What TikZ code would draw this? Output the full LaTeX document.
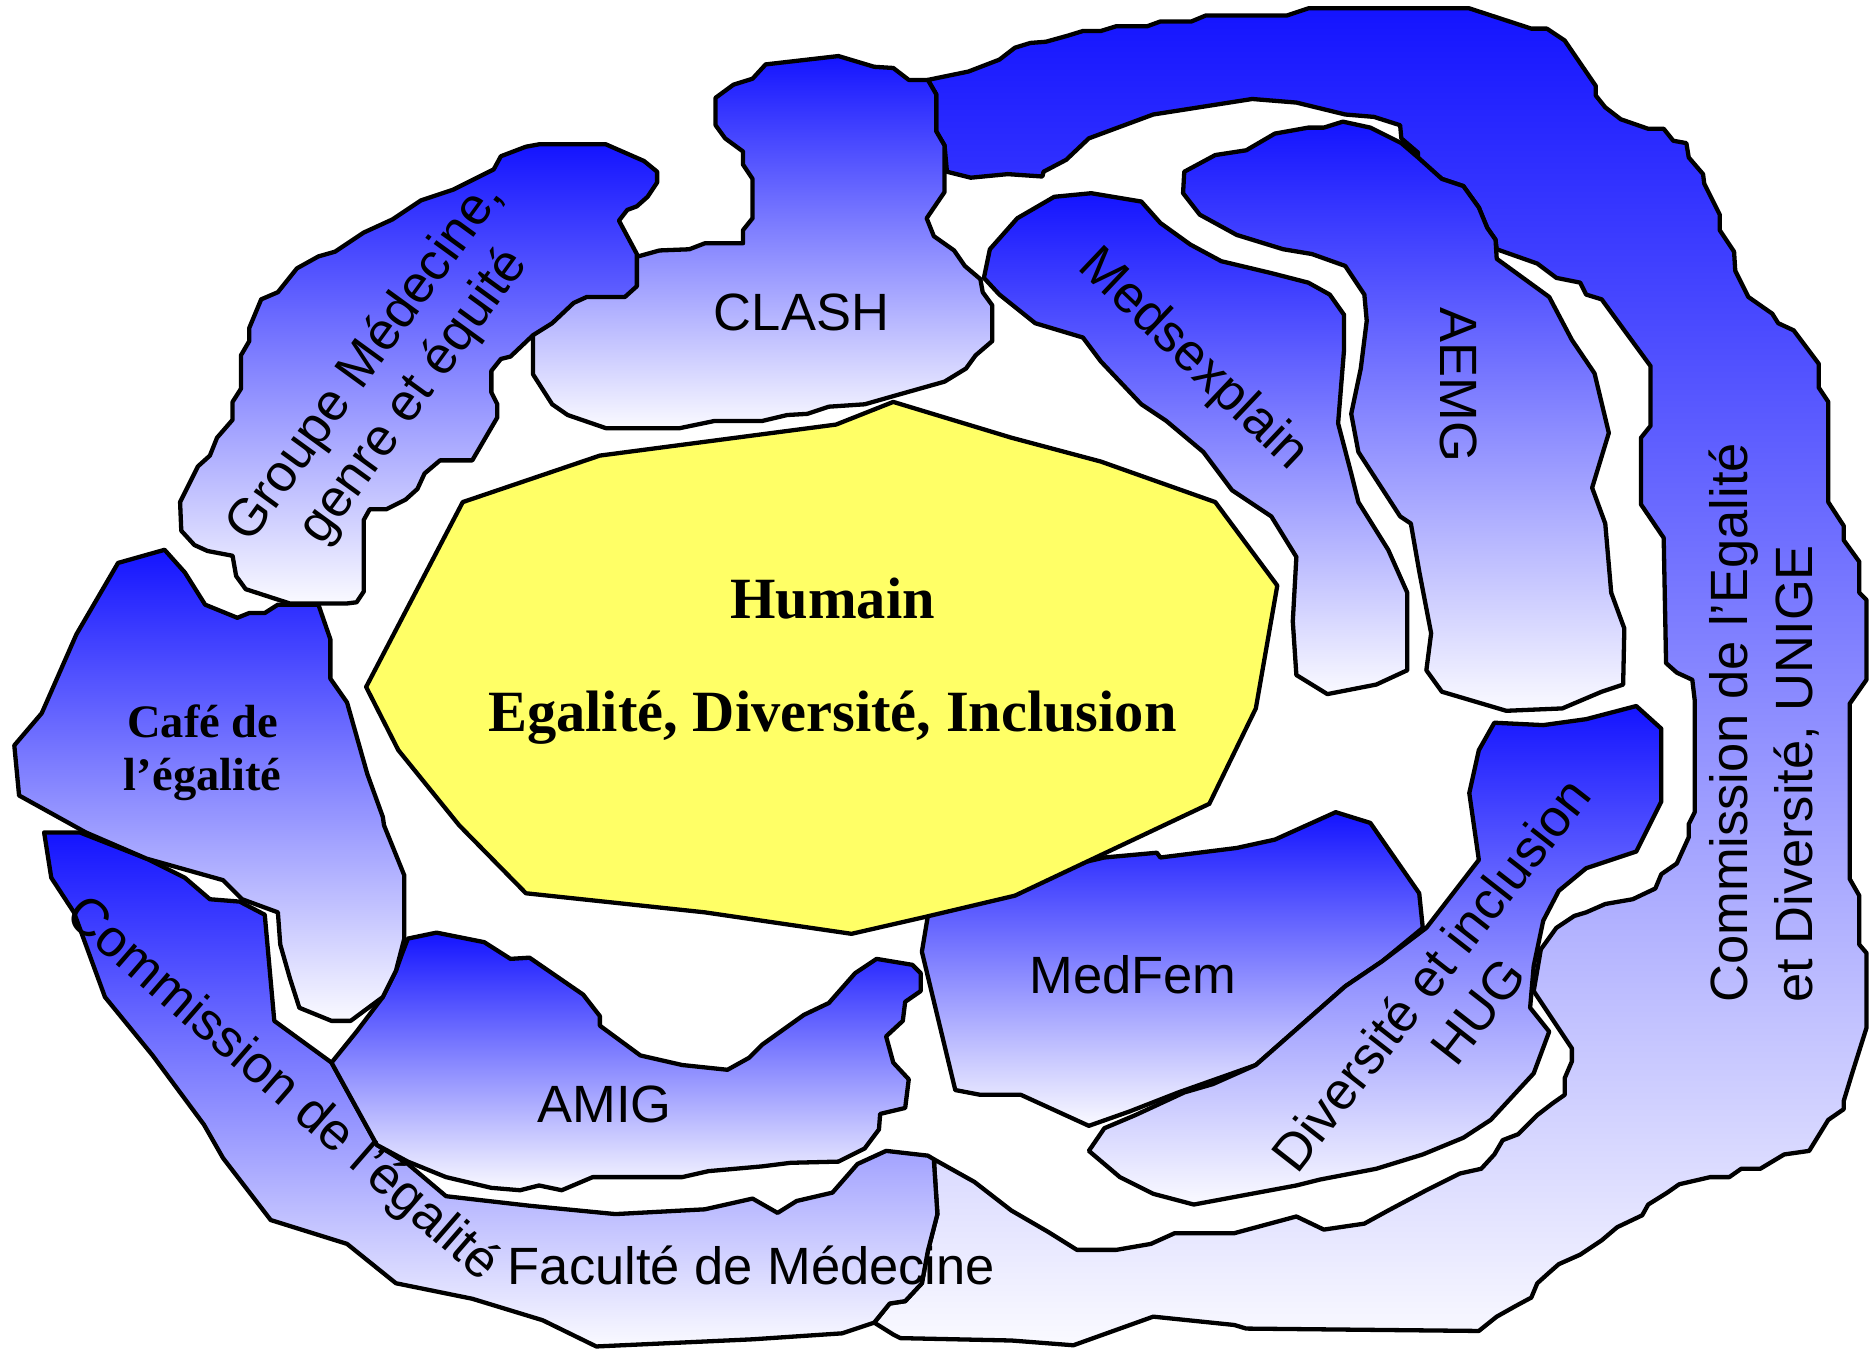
\documentclass[tikz,border=0pt]{standalone}
\usepackage{fontspec}
\setmainfont{Liberation Serif}
\setsansfont{Liberation Sans}
\definecolor{blobtop}{RGB}{20, 20, 255}
\definecolor{blobbottom}{RGB}{250, 250, 255}
\definecolor{hubyellow}{RGB}{255, 255, 102}
\usetikzlibrary{positioning}

\begin{document}
\begin{tikzpicture}[
  x=1pt, y=-1pt,
  blob/.style={draw=black, line width=3.6pt, line join=round, top color=blobtop, bottom color=blobbottom},
  hub/.style={draw=black, line width=3.6pt, line join=round, fill=hubyellow},
  lbl/.style={font=\sffamily\fontsize{44}{50}\selectfont, align=center, inner sep=0pt},
  cafetxt/.style={font=\bfseries\fontsize{39}{44}\selectfont, align=center, inner sep=0pt},
  hubtxt/.style={font=\bfseries\fontsize{49}{56}\selectfont, anchor=base, inner sep=0pt}
]
  \useasboundingbox (0, 0) rectangle (1568, 1133);

  \draw[blob] (778, 67) -- (812, 60) -- (838, 50) -- (851, 40) -- (864, 36) -- (877, 35) -- (895, 30) -- (908, 26) -- (923, 26) -- (936, 22) -- (962, 22) -- (973, 18) -- (999, 18) -- (1011, 13) -- (1079, 13) -- (1097, 7) -- (1232, 7) -- (1284, 24) -- (1297, 24) -- (1312, 34) -- (1338, 72) -- (1338, 80) -- (1346, 90) -- (1359, 100) -- (1382, 108) -- (1395, 108) -- (1403, 118) -- (1414, 120) -- (1416, 132) -- (1428, 146) -- (1429, 154) -- (1442, 180) -- (1442, 193) -- (1454, 211) -- (1455, 227) -- (1466, 249) -- (1486, 263) -- (1491, 271) -- (1504, 277) -- (1525, 305) -- (1525, 325) -- (1533, 337) -- (1533, 421) -- (1546, 441) -- (1546, 453) -- (1559, 471) -- (1559, 497) -- (1565, 503) -- (1565, 570) -- (1551, 590) -- (1551, 737) -- (1559, 751) -- (1559, 792) -- (1565, 799) -- (1565, 862) -- (1553, 900) -- (1546, 923) -- (1546, 930) -- (1533, 939) -- (1517, 965) -- (1496, 968) -- (1476, 980) -- (1460, 980) -- (1450, 987) -- (1434, 987) -- (1408, 993) -- (1398, 1000) -- (1382, 1010) -- (1377, 1019) -- (1356, 1029) -- (1343, 1040) -- (1325, 1052) -- (1307, 1060) -- (1299, 1067) -- (1289, 1076) -- (1284, 1088) -- (1271, 1095) -- (1255, 1104) -- (1240, 1116) -- (1045, 1114) -- (1035, 1111) -- (967, 1104) -- (900, 1128) -- (848, 1124) -- (755, 1122) -- (749, 1119) -- (733, 1109) -- (746, 1093) -- (759, 1091) -- (773, 1076) -- (778, 1049) -- (786, 1018) -- (783, 972) -- (817, 991) -- (848, 1015) -- (879, 1033) -- (903, 1048) -- (936, 1048) -- (965, 1043) -- (985, 1034) -- (1035, 1034) -- (1087, 1020) -- (1110, 1031) -- (1144, 1026) -- (1164, 1015) -- (1196, 998) -- (1224, 984) -- (1242, 980) -- (1253, 968) -- (1260, 956) -- (1273, 951) -- (1289, 935) -- (1302, 925) -- (1312, 918) -- (1312, 904) -- (1318, 890) -- (1318, 879) -- (1286, 831) -- (1292, 796) -- (1305, 778) -- (1320, 768) -- (1330, 765) -- (1346, 758) -- (1369, 754) -- (1388, 745) -- (1393, 733) -- (1406, 724) -- (1416, 702) -- (1416, 691) -- (1421, 681) -- (1421, 587) -- (1419, 570) -- (1406, 564) -- (1397, 556) -- (1395, 451) -- (1376, 423) -- (1376, 367) -- (1384, 357) -- (1384, 307) -- (1362, 277) -- (1343, 251) -- (1330, 247) -- (1325, 237) -- (1305, 233) -- (1289, 221) -- (1255, 209) -- (1254, 201) -- (1247, 191) -- (1240, 174) -- (1227, 156) -- (1209, 150) -- (1189, 134) -- (1189, 128) -- (1175, 116) -- (1174, 105) -- (1152, 98) -- (1128, 96) -- (1087, 86) -- (1050, 83) -- (967, 96) -- (913, 116) -- (894, 134) -- (875, 144) -- (874, 148) -- (845, 146) -- (814, 149) -- (794, 144) -- (792, 122) -- (785, 110) -- (785, 79) -- cycle;

  \draw[blob] (37, 698) -- (43, 736) -- (62, 765) -- (88, 836) -- (128, 885) -- (171, 943) -- (187, 971) -- (227, 1023) -- (291, 1043) -- (332, 1076) -- (396, 1089) -- (455, 1107) -- (500, 1129) -- (631, 1123) -- (706, 1118) -- (733, 1109) -- (746, 1093) -- (759, 1091) -- (773, 1076) -- (778, 1049) -- (786, 1018) -- (783, 972) -- (778, 969) -- (743, 965) -- (719, 976) -- (698, 1000) -- (668, 1007) -- (652, 1017) -- (631, 1005) -- (591, 1014) -- (516, 1018) -- (444, 1011) -- (374, 1003) -- (342, 976) -- (316, 960) -- (278, 891) -- (230, 856) -- (222, 767) -- (201, 756) -- (176, 754) -- (155, 736) -- (123, 720) -- (67, 698) -- cycle;

  \draw[blob] (342, 787) -- (366, 782) -- (406, 790) -- (428, 804) -- (444, 803) -- (489, 834) -- (503, 852) -- (503, 860) -- (537, 885) -- (572, 893) -- (610, 897) -- (628, 887) -- (639, 876) -- (674, 851) -- (695, 841) -- (717, 816) -- (735, 804) -- (765, 809) -- (772, 816) -- (772, 831) -- (759, 840) -- (757, 856) -- (743, 869) -- (749, 891) -- (762, 905) -- (759, 929) -- (738, 934) -- (737, 947) -- (725, 963) -- (703, 974) -- (663, 975) -- (639, 978) -- (594, 982) -- (572, 987) -- (497, 987) -- (471, 998) -- (452, 994) -- (436, 998) -- (412, 996) -- (374, 987) -- (342, 974) -- (316, 960) -- (278, 891) -- (299, 865) -- (321, 836) -- (332, 814) -- (337, 800) -- cycle;

  \draw[blob] (99, 472) -- (138, 461) -- (155, 480) -- (172, 507) -- (199, 518) -- (209, 514) -- (222, 514) -- (233, 507) -- (267, 507) -- (277, 536) -- (277, 569) -- (291, 589) -- (308, 649) -- (321, 685) -- (322, 692) -- (339, 734) -- (339, 787) -- (332, 814) -- (321, 836) -- (294, 856) -- (278, 856) -- (251, 845) -- (243, 820) -- (235, 792) -- (233, 765) -- (203, 754) -- (187, 738) -- (123, 720) -- (72, 698) -- (16, 667) -- (12, 625) -- (35, 598) -- (64, 532) -- cycle;

  \draw[blob] (642, 54) -- (703, 47) -- (733, 56) -- (749, 57) -- (762, 67) -- (778, 67) -- (785, 79) -- (785, 110) -- (792, 122) -- (792, 161) -- (777, 183) -- (783, 198) -- (800, 210) -- (809, 223) -- (822, 234) -- (824, 245) -- (832, 256) -- (832, 286) -- (818, 298) -- (810, 309) -- (792, 320) -- (746, 333) -- (725, 339) -- (695, 341) -- (677, 347) -- (660, 348) -- (639, 353) -- (599, 353) -- (570, 359) -- (508, 359) -- (476, 348) -- (463, 339) -- (447, 314) -- (447, 281) -- (465, 262) -- (500, 238) -- (528, 220) -- (535, 215) -- (553, 210) -- (578, 209) -- (591, 204) -- (623, 204) -- (623, 193) -- (631, 183) -- (631, 150) -- (623, 138) -- (623, 127) -- (608, 116) -- (600, 105) -- (600, 82) -- (615, 71) -- (631, 66) -- cycle;

  \draw[blob] (452, 121) -- (508, 121) -- (540, 135) -- (551, 144) -- (551, 153) -- (543, 165) -- (534, 173) -- (526, 176) -- (519, 185) -- (534, 213) -- (534, 240) -- (524, 249) -- (492, 249) -- (481, 254) -- (463, 271) -- (447, 281) -- (428, 299) -- (420, 301) -- (412, 311) -- (412, 329) -- (417, 339) -- (417, 350) -- (396, 386) -- (369, 386) -- (356, 397) -- (350, 410) -- (340, 419) -- (324, 427) -- (310, 427) -- (305, 436) -- (305, 496) -- (299, 505) -- (291, 506) -- (243, 506) -- (206, 494) -- (198, 483) -- (195, 466) -- (174, 462) -- (163, 457) -- (152, 445) -- (151, 421) -- (166, 391) -- (176, 382) -- (182, 367) -- (195, 352) -- (195, 337) -- (202, 326) -- (202, 298) -- (209, 286) -- (209, 275) -- (219, 251) -- (233, 245) -- (249, 225) -- (267, 215) -- (281, 211) -- (305, 195) -- (329, 184) -- (353, 168) -- (380, 159) -- (398, 150) -- (414, 142) -- (420, 131) -- (441, 123) -- cycle;

  \draw[blob] (830, 209) -- (853, 183) -- (884, 165) -- (915, 162) -- (957, 169) -- (973, 187) -- (998, 205) -- (1024, 219) -- (1066, 229) -- (1097, 237) -- (1115, 247) -- (1127, 264) -- (1127, 293) -- (1122, 355) -- (1133, 397) -- (1139, 421) -- (1164, 461) -- (1180, 497) -- (1180, 562) -- (1154, 574) -- (1113, 582) -- (1087, 566) -- (1084, 521) -- (1087, 467) -- (1066, 433) -- (1033, 411) -- (1009, 379) -- (978, 353) -- (957, 339) -- (923, 303) -- (908, 283) -- (868, 271) -- (838, 247) -- (825, 233) -- cycle;

  \draw[blob] (993, 144) -- (1019, 130) -- (1045, 126) -- (1069, 112) -- (1097, 107) -- (1110, 107) -- (1126, 102) -- (1149, 107) -- (1175, 120) -- (1189, 132) -- (1209, 150) -- (1227, 156) -- (1240, 174) -- (1247, 191) -- (1254, 201) -- (1255, 217) -- (1299, 249) -- (1318, 285) -- (1337, 313) -- (1349, 363) -- (1335, 409) -- (1346, 439) -- (1351, 497) -- (1362, 527) -- (1361, 574) -- (1343, 580) -- (1310, 594) -- (1263, 596) -- (1209, 580) -- (1196, 562) -- (1200, 531) -- (1190, 479) -- (1183, 439) -- (1174, 433) -- (1139, 379) -- (1133, 347) -- (1141, 309) -- (1146, 269) -- (1144, 247) -- (1128, 223) -- (1100, 213) -- (1076, 209) -- (1037, 197) -- (1006, 180) -- (992, 162) -- cycle;

  \draw[blob] (775, 754) -- (778, 768) -- (773, 798) -- (801, 914) -- (822, 918) -- (856, 918) -- (913, 944) -- (947, 932) -- (988, 916) -- (1053, 893) -- (1128, 827) -- (1159, 806) -- (1193, 778) -- (1190, 749) -- (1149, 690) -- (1120, 681) -- (1069, 704) -- (1037, 711) -- (973, 719) -- (970, 715) -- (926, 719) -- cycle;

  \draw[blob] (1253, 606) -- (1294, 608) -- (1330, 603) -- (1372, 592) -- (1393, 611) -- (1393, 672) -- (1372, 714) -- (1330, 728) -- (1307, 747) -- (1294, 772) -- (1286, 810) -- (1283, 845) -- (1299, 865) -- (1286, 900) -- (1250, 939) -- (1227, 954) -- (1193, 968) -- (1154, 980) -- (1107, 989) -- (1087, 994) -- (1001, 1010) -- (967, 1001) -- (939, 987) -- (913, 965) -- (926, 946) -- (952, 935) -- (993, 916) -- (1017, 909) -- (1053, 893) -- (1128, 827) -- (1159, 806) -- (1196, 778) -- (1240, 721) -- (1232, 665) -- (1240, 629) -- cycle;

  \draw[hub] (307, 576) -- (388, 421) -- (503, 382) -- (701, 356) -- (749, 337) -- (848, 367) -- (923, 387) -- (1019, 421) -- (1071, 491) -- (1053, 594) -- (1014, 674) -- (851, 751) -- (775, 769) -- (714, 783) -- (591, 765) -- (441, 749) -- (385, 692) -- (334, 629) -- cycle;

  \node[hubtxt] (humain) at (698, 519) {Humain};
  \node[hubtxt] (edi) at (698, 613) {Egalité, Diversité, Inclusion};
  \node[lbl, anchor=base] (clash) at (672, 277) {CLASH};
  \node[lbl, anchor=base] (medfem) at (950, 833) {MedFem};
  \node[lbl, anchor=base] (amig) at (507, 941) {AMIG};
  \node[lbl, anchor=base] (faculte) at (630, 1077) {Faculté de Médecine};
  \node[lbl, rotate=-43.5] (medsexplain) at (1000, 302) {Medsexplain};
  \node[lbl, rotate=-90] (aemg) at (1223, 323) {AEMG};
  \node[lbl, rotate=54] (groupe) at (327, 318) {Groupe Médecine,\\genre et équité};
  \node[lbl, rotate=52] (hug) at (1219, 832) {Diversité et inclusion\\HUG};
  \node[lbl, rotate=-41] (commfac) at (236, 914) {Commission de l’égalité};
  \node[lbl, rotate=90, anchor=west, align=left] (unige) at (1479, 841) {Commission de l’Egalité\\[4pt]et Diversité, UNIGE};
  \node[cafetxt] (cafe) at (170, 631) {Café de\\l’égalité};
\end{tikzpicture}
\end{document}
